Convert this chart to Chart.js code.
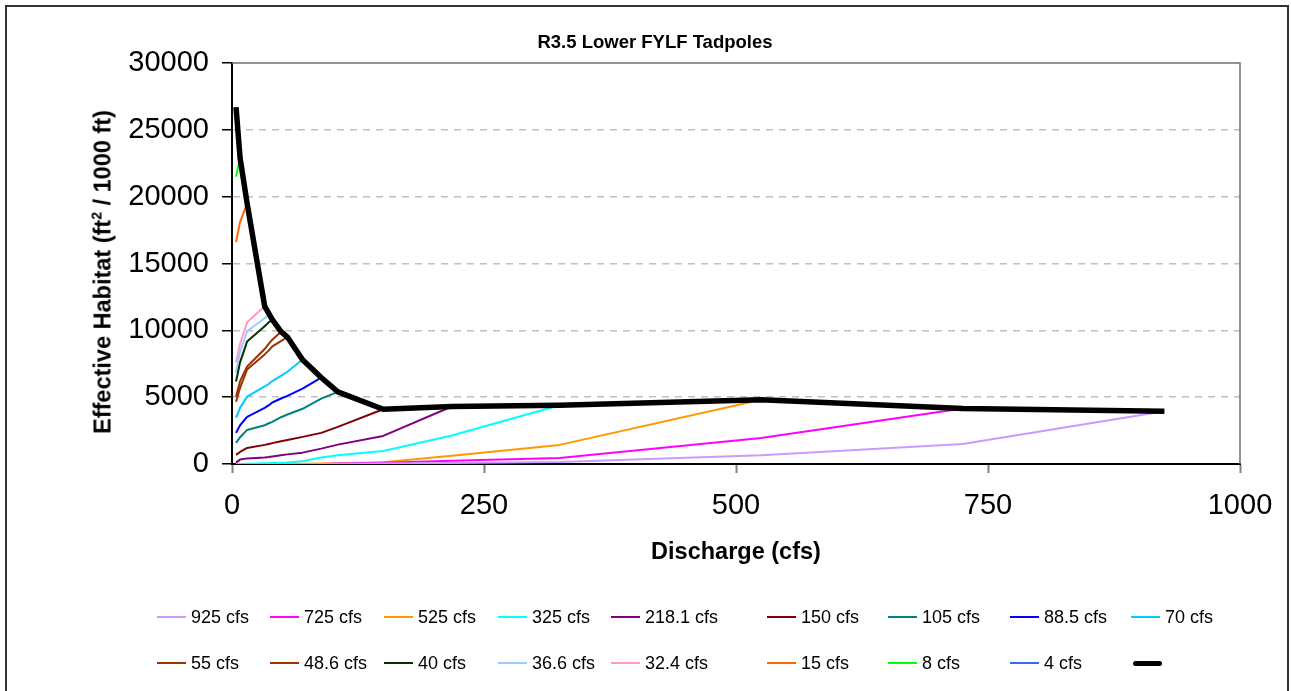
<!DOCTYPE html>
<html>
<head>
<meta charset="utf-8">
<script src="https://cdn.jsdelivr.net/npm/chart.js"></script>
<style>
  html, body { margin: 0; padding: 0; background: #fff; }
  body { width: 1291px; height: 691px; position: relative; overflow: hidden; font-family: Arial, "Liberation Sans", sans-serif; color: #000; }
  #frame { position: absolute; left: 5px; top: 5px; width: 1284px; height: 700px; border: 2px solid #333; box-sizing: border-box; }
  #chart { position: absolute; left: 0; top: 0; }
  .txt { position: absolute; white-space: nowrap; font-weight: bold; }
  #title { left: 655px; top: 42px; transform: translate(-50%, -50%); font-size: 18.5px; }
  #xTitle { left: 736px; top: 551px; transform: translate(-50%, -50%); font-size: 23.5px; }
  #yTitle { left: 103px; top: 272px; transform: translate(-50%, -50%) rotate(-90deg); font-size: 23.5px; }
  #yTitle sup { font-size: 14px; vertical-align: 9px; line-height: 0; }
  .leg { position: absolute; height: 24px; display: flex; align-items: center; font-size: 18px; transform: translateY(-50%); }
  .leg .sw { width: 29px; height: 2px; margin-right: 5px; }
  .leg .sw.thick { width: 29px; height: 5px; border-radius: 3px; margin-left: 2px; }
</style>
</head>
<body>
<div id="frame"></div>
<canvas id="chart" width="1291" height="691"></canvas>
<div class="txt" id="title">R3.5 Lower FYLF Tadpoles</div>
<div class="txt" id="xTitle">Discharge (cfs)</div>
<div class="txt" id="yTitle">Effective Habitat (ft<sup>2</sup> / 1000 ft)</div>
<div id="legend"></div>
<script>
// discharge values (cfs) where habitat was evaluated
const discharges = [4, 8, 15, 32.4, 36.6, 40, 48.6, 55, 70, 88.5, 105, 150, 218.1, 325, 525, 725, 925];

// effective habitat per series, one value per discharge up to the series flow
const hab925 = [0, 0, 0, 0, 0, 0, 0, 0, 0, 0, 10, 30, 80, 150, 650, 1500, 3950];
const hab725 = [0, 0, 0, 0, 0, 0, 0, 0, 0, 0, 30, 100, 250, 450, 1950, 4150];
const hab525 = [0, 0, 0, 0, 0, 0, 0, 0, 20, 40, 60, 130, 620, 1430, 4800];
const hab325 = [0, 0, 20, 50, 60, 70, 90, 110, 200, 480, 650, 980, 2130, 4400];
const hab218 = [100, 330, 420, 480, 520, 560, 650, 720, 850, 1150, 1450, 2100, 4300];
const hab150 = [680, 900, 1200, 1430, 1500, 1560, 1700, 1800, 2030, 2330, 2780, 4100];
const hab105 = [1580, 2000, 2550, 2900, 3050, 3150, 3500, 3700, 4130, 4890, 5400];
const hab88 = [2330, 2900, 3530, 4200, 4400, 4600, 4900, 5100, 5640, 6470];
const hab70 = [3460, 4200, 5040, 5800, 6000, 6200, 6600, 6900, 7820];
const hab55 = [4660, 5700, 7070, 8200, 8500, 8800, 9200, 9500];
const hab48 = [5040, 6200, 7290, 8600, 9000, 9300, 9900];
const hab40 = [6170, 7600, 9170, 10300, 10600, 10800];
const hab36 = [6840, 8400, 9930, 10900, 11250];
const hab32 = [7590, 9000, 10600, 11800];
const hab15 = [16600, 18100, 19500];
const hab8 = [21500, 22900];
const hab4 = [26700];
// envelope of maximum habitat
const habMax = [26700, 22900, 19500, 11800, 11250, 10800, 9900, 9500, 7800, 6470, 5400, 4100, 4300, 4400, 4800, 4150, 3950];

const seriesLabels = ['925 cfs', '725 cfs', '525 cfs', '325 cfs', '218.1 cfs', '150 cfs', '105 cfs', '88.5 cfs', '70 cfs',
    '55 cfs', '48.6 cfs', '40 cfs', '36.6 cfs', '32.4 cfs', '15 cfs', '8 cfs', '4 cfs', ''];
const seriesValues = [hab925, hab725, hab525, hab325, hab218, hab150, hab105, hab88, hab70,
    hab55, hab48, hab40, hab36, hab32, hab15, hab8, hab4, habMax];
const seriesColors = ['#CC99FF', '#FF00FF', '#FF9900', '#00FFFF', '#800080', '#800000', '#008080', '#0000FF', '#00CCFF',
    '#993300', '#993300', '#003300', '#99CCFF', '#FF99CC', '#FF6600', '#00FF00', '#3366FF', '#000000'];

// legend grid positions (Excel-style columns)
const legendCols = [157, 270, 384, 498, 611, 767, 888, 1010, 1131];
const legendRows = [617, 663];

const datasets = seriesValues.map((vals, i) => {
    const isMax = i === seriesValues.length - 1;
    return {
        label: seriesLabels[i],
        data: vals.map((v, j) => ({ x: discharges[j], y: v })),
        borderColor: seriesColors[i],
        backgroundColor: seriesColors[i],
        borderWidth: isMax ? 5.5 : 2,
        borderJoinStyle: 'round',
        pointRadius: 0,
        tension: 0,
        fill: false,
        order: isMax ? -1 : i
    };
});

// top and right edges of the plot area
const plotFrame = {
    id: 'plotFrame',
    afterDatasetsDraw(chart) {
        const { ctx, chartArea: a } = chart;
        ctx.save();
        ctx.strokeStyle = '#707070';
        ctx.lineWidth = 1.5;
        ctx.beginPath();
        ctx.moveTo(a.left, a.top);
        ctx.lineTo(a.right, a.top);
        ctx.lineTo(a.right, a.bottom);
        ctx.stroke();
        ctx.restore();
    }
};

const tickFont = { family: 'Arial, "Liberation Sans", sans-serif', size: 29 };

new Chart(document.getElementById('chart'), {
    type: 'line',
    data: { datasets },
    options: {
        responsive: false,
        animation: false,
        layout: { padding: { top: 63, right: 51, bottom: 0, left: 0 } },
        plugins: { legend: { display: false }, tooltip: { enabled: false } },
        scales: {
            x: {
                type: 'linear',
                min: 0,
                max: 1000,
                afterFit: (s) => { s.height = 227; },
                ticks: { stepSize: 250, color: '#000', font: tickFont, padding: 16, maxRotation: 0, callback: (v) => String(v) },
                grid: { drawOnChartArea: false, tickLength: 9, tickColor: '#808080', tickWidth: 2 },
                border: { color: '#000', width: 2 }
            },
            y: {
                min: 0,
                max: 30000,
                afterFit: (s) => { s.width = 232; },
                ticks: { stepSize: 5000, color: '#000', font: tickFont, padding: 13, callback: (v) => String(v) },
                grid: {
                    color: (c) => (c.tick && (c.tick.value === 0 || c.tick.value === 30000)) ? 'rgba(0,0,0,0)' : '#C0C0C0',
                    lineWidth: 1.5,
                    tickLength: 10,
                    tickColor: '#000',
                    tickWidth: 1.5,
                    tickBorderDash: []
                },
                border: { color: '#000', width: 2, dash: [7, 6] }
            }
        }
    },
    plugins: [plotFrame]
});

// legend built from the same series
const legendEl = document.getElementById('legend');
seriesLabels.forEach((label, i) => {
    const item = document.createElement('div');
    item.className = 'leg';
    item.style.left = legendCols[i % 9] + 'px';
    item.style.top = legendRows[Math.floor(i / 9)] + 'px';
    const sw = document.createElement('div');
    sw.className = 'sw' + (i === seriesLabels.length - 1 ? ' thick' : '');
    sw.style.background = seriesColors[i];
    item.appendChild(sw);
    if (label) {
        const t = document.createElement('span');
        t.textContent = label;
        item.appendChild(t);
    }
    legendEl.appendChild(item);
});
</script>
</body>
</html>
